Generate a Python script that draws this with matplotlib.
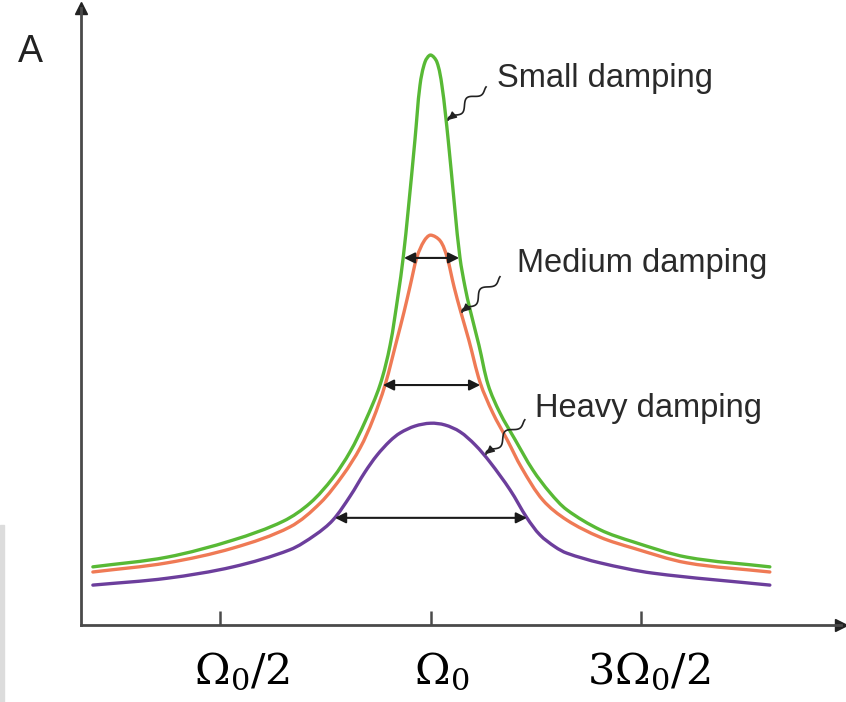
import numpy as np
import matplotlib
matplotlib.use("Agg")
import matplotlib.pyplot as plt
from matplotlib.patches import Rectangle, PathPatch
from matplotlib.path import Path
import matplotlib.transforms as mtransforms

plt.rcParams["mathtext.fontset"] = "dejavuserif"

W, H = 846, 702

# --- data (frequency in units of Omega_0, amplitude relative to small-damping peak) ---
small_x = [0.198, 0.374, 0.531, 0.650, 0.714, 0.768, 0.809, 0.844, 0.880, 0.904, 0.923, 0.935,
           0.947, 0.963, 0.975, 0.987, 1.000, 1.015, 1.027, 1.042, 1.058, 1.070, 1.082, 1.094,
           1.115, 1.137, 1.165, 1.201, 1.243, 1.284, 1.324, 1.403, 1.481, 1.609, 1.806]
small_y = [0.102, 0.119, 0.149, 0.182, 0.214, 0.258, 0.304, 0.356, 0.421, 0.491, 0.579, 0.644,
           0.728, 0.851, 0.947, 0.988, 1.000, 0.988, 0.947, 0.851, 0.728, 0.644, 0.593, 0.553,
           0.491, 0.421, 0.372, 0.325, 0.272, 0.232, 0.202, 0.167, 0.146, 0.119, 0.102]

medium_x = [0.198, 0.374, 0.531, 0.666, 0.738, 0.792, 0.833, 0.863, 0.892, 0.920, 0.937, 0.951,
            0.968, 0.985, 1.000, 1.023, 1.039, 1.056, 1.072, 1.091, 1.118, 1.148, 1.182, 1.217,
            1.267, 1.324, 1.403, 1.481, 1.609, 1.806]
medium_y = [0.093, 0.109, 0.135, 0.172, 0.214, 0.263, 0.311, 0.360, 0.421, 0.500, 0.549, 0.593,
            0.646, 0.674, 0.684, 0.674, 0.646, 0.593, 0.549, 0.500, 0.425, 0.372, 0.325, 0.275,
            0.219, 0.184, 0.154, 0.135, 0.109, 0.093]

heavy_x = [0.198, 0.374, 0.531, 0.666, 0.726, 0.768, 0.809, 0.844, 0.873, 0.904, 0.928, 0.963,
           1.000, 1.034, 1.070, 1.106, 1.141, 1.189, 1.229, 1.260, 1.296, 1.324, 1.403, 1.528,
           1.806]
heavy_y = [0.070, 0.082, 0.102, 0.132, 0.158, 0.184, 0.226, 0.268, 0.298, 0.323, 0.337, 0.349,
           0.354, 0.351, 0.339, 0.316, 0.286, 0.237, 0.188, 0.158, 0.137, 0.126, 0.109, 0.091,
           0.070]

# width arrows: (y, x_left, x_right)
width_y = [0.644, 0.421, 0.188]
width_left = [0.937, 0.887, 0.773]
width_right = [1.068, 1.118, 1.229]

# labels: text, text position, squiggle start, squiggle end (on curve)
label_text = ["Small damping", "Medium damping", "Heavy damping"]
label_pos = [(1.158, 0.944), (1.205, 0.619), (1.248, 0.365)]
squig_start = [(1.132, 0.944), (1.165, 0.611), (1.224, 0.360)]
squig_end = [(1.042, 0.886), (1.075, 0.549), (1.132, 0.300)]

tick_pos = [0.5, 1.0, 1.5]
tick_labels = [r"$\Omega_0/2$", r"$\Omega_0$", r"$3\Omega_0/2$"]
tick_dx = [22, 11, 8]

colors = ["#58b935", "#ef7a55", "#6c3e9c"]

fig = plt.figure(figsize=(W / 100, H / 100), dpi=100)
fig.patches.append(Rectangle((0, 0), 4 / W, (H - 525) / H, transform=fig.transFigure,
                             color="#dcdcdc", zorder=0))
ax = fig.add_axes([81 / W, (H - 625) / H, (841 - 81) / W, (625 - 8) / H])
ax.set_xlim(0.1698, 1.975)
ax.set_ylim(0, 1.0825)
ax.patch.set_alpha(0)

for s in ["top", "right"]:
    ax.spines[s].set_visible(False)
for s in ["left", "bottom"]:
    ax.spines[s].set_color("#4a4a4a")
    ax.spines[s].set_linewidth(2.0)
ax.plot(1, 0, ">", color="#222", ms=8, transform=ax.transAxes, clip_on=False)
ax.plot(0, 1, "^", color="#222", ms=8, transform=ax.transAxes, clip_on=False)

ax.set_yticks([])
ax.set_xticks(tick_pos, tick_labels, fontsize=31)
ax.tick_params(axis="x", direction="in", length=10, width=1.8, color="#4a4a4a", pad=18)
for lab, dx in zip(ax.get_xticklabels(), tick_dx):
    lab.set_transform(lab.get_transform() + mtransforms.ScaledTranslation(dx / 100, 0, fig.dpi_scale_trans))


def smooth_curve(xs, ys, color):
    """Draw a smooth curve passing through the given points (chord-length Catmull-Rom)."""
    P = np.column_stack([xs, ys]).astype(float)
    D = ax.transData.transform(P)
    n = len(P)
    seg = np.hypot(*np.diff(D, axis=0).T)
    t = np.concatenate([[0], np.cumsum(seg)])
    tang = np.zeros_like(P)
    tang[0] = (P[1] - P[0]) / (t[1] - t[0])
    tang[-1] = (P[-1] - P[-2]) / (t[-1] - t[-2])
    for i in range(1, n - 1):
        tang[i] = (P[i + 1] - P[i - 1]) / (t[i + 1] - t[i - 1])
    verts = [P[0]]
    codes = [Path.MOVETO]
    for i in range(n - 1):
        h = t[i + 1] - t[i]
        verts += [P[i] + tang[i] * h / 3, P[i + 1] - tang[i + 1] * h / 3, P[i + 1]]
        codes += [Path.CURVE4] * 3
    ax.add_patch(PathPatch(Path(verts, codes), fill=False, edgecolor=color, lw=2.4,
                           capstyle="round", joinstyle="round"))


smooth_curve(small_x, small_y, colors[0])
smooth_curve(medium_x, medium_y, colors[1])
smooth_curve(heavy_x, heavy_y, colors[2])

for y, xl, xr in zip(width_y, width_left, width_right):
    ax.annotate("", xy=(xl, y), xytext=(xr, y),
                arrowprops=dict(arrowstyle="<|-|>", color="#1a1a1a", lw=1.5,
                                mutation_scale=16, shrinkA=0, shrinkB=0))

fig.text(18 / W, 1 - 62 / H, "A", fontsize=27, family="Liberation Sans", color="#222")

inv = ax.transData.inverted()
for txt, pos, p0d, p1d in zip(label_text, label_pos, squig_start, squig_end):
    ax.text(pos[0], pos[1], txt, fontsize=23.5, family="Liberation Sans", color="#2a2a2a",
            ha="left", va="baseline")
    p0 = ax.transData.transform(p0d)
    p1 = ax.transData.transform(p1d)
    d = p1 - p0
    L = np.hypot(*d)
    u = d / L
    nrm = np.array([-u[1], u[0]])
    tt = np.linspace(0, 1, 80)
    wave = 4.5 * np.sin(2 * np.pi * 1.75 * tt) * np.sin(np.pi * tt) ** 0.5
    pts = p0[None, :] + tt[:, None] * d[None, :] + wave[:, None] * nrm[None, :]
    dp = inv.transform(pts)
    ax.plot(dp[:, 0], dp[:, 1], color="#222", lw=1.2, clip_on=False)
    ax.annotate("", xy=p1d, xytext=inv.transform(p1 - 8 * u),
                arrowprops=dict(arrowstyle="-|>", color="#222", lw=1.0,
                                mutation_scale=12, shrinkA=0, shrinkB=0))

fig.savefig("out.png", dpi=100)
